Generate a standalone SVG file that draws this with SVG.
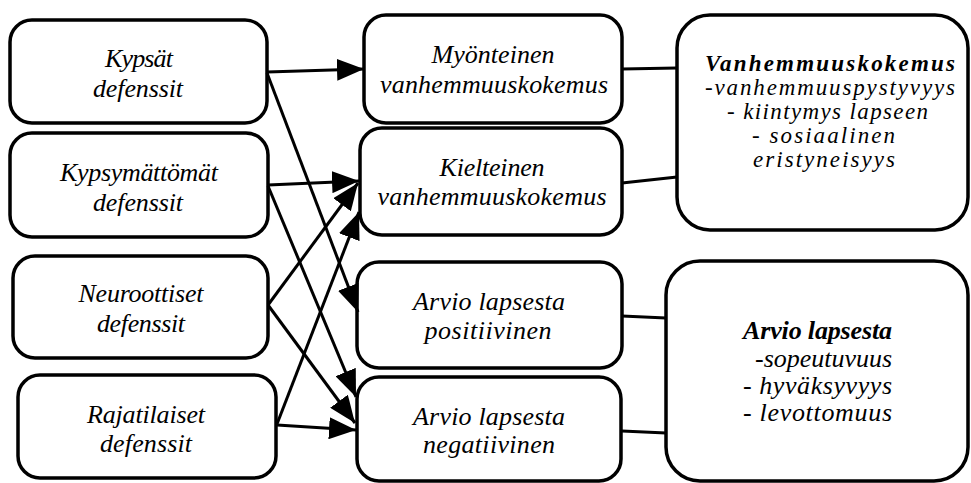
<svg xmlns="http://www.w3.org/2000/svg" width="971" height="483" viewBox="0 0 971 483">
<style>
  .box { fill: #fff; stroke: #000; stroke-width: 3.5; }
  .t { font-family: 'Liberation Serif', 'Times New Roman', serif; font-style: italic; font-size: 26px; fill: #000; text-anchor: middle; }
  .r { font-family: 'Liberation Serif', 'Times New Roman', serif; font-style: italic; font-size: 26px; fill: #000; }
  .s { font-size: 23px; }
  .b { font-weight: bold; }
  .c { fill: none; stroke: #000; stroke-width: 3; }
  .a { marker-end: url(#arr); }
</style>
<defs>
  <marker id="arr" markerUnits="userSpaceOnUse" markerWidth="28" markerHeight="22" refX="27" refY="11" orient="auto">
    <path d="M0,0 L27,11 L0,22 z" fill="#000"/>
  </marker>
</defs>
<rect width="971" height="483" fill="#fff"/>

<g id="kypsat">
  <rect class="box" x="10" y="20" width="257" height="103" rx="22"/>
  <text class="t" x="139" y="67" textLength="68" lengthAdjust="spacing">Kypsät</text>
  <text class="t" x="138" y="97" textLength="90" lengthAdjust="spacing">defenssit</text>
</g>
<g id="kypsymattomat">
  <rect class="box" x="10" y="133" width="258" height="104" rx="22"/>
  <text class="t" x="139" y="181" textLength="158" lengthAdjust="spacing">Kypsymättömät</text>
  <text class="t" x="138" y="211" textLength="90" lengthAdjust="spacing">defenssit</text>
</g>
<g id="neuroottiset">
  <rect class="box" x="13" y="256" width="255" height="102" rx="22"/>
  <text class="t" x="141" y="302" textLength="125" lengthAdjust="spacing">Neuroottiset</text>
  <text class="t" x="141" y="332" textLength="88" lengthAdjust="spacing">defenssit</text>
</g>
<g id="rajatilaiset">
  <rect class="box" x="18" y="375" width="258" height="103" rx="22"/>
  <text class="t" x="146" y="423" textLength="118" lengthAdjust="spacing">Rajatilaiset</text>
  <text class="t" x="146" y="452" textLength="92" lengthAdjust="spacing">defenssit</text>
</g>

<g id="myonteinen">
  <rect class="box" x="364" y="15" width="258" height="108" rx="22"/>
  <text class="t" x="493" y="63" textLength="123" lengthAdjust="spacing">Myönteinen</text>
  <text class="t" x="494" y="93" textLength="228" lengthAdjust="spacing">vanhemmuuskokemus</text>
</g>
<g id="kielteinen">
  <rect class="box" x="360" y="128" width="262" height="107" rx="22"/>
  <text class="t" x="492" y="176" textLength="105" lengthAdjust="spacing">Kielteinen</text>
  <text class="t" x="492" y="205" textLength="229" lengthAdjust="spacing">vanhemmuuskokemus</text>
</g>
<g id="arvio-positiivinen">
  <rect class="box" x="357" y="262" width="265" height="106" rx="22"/>
  <text class="t" x="489" y="310" textLength="152" lengthAdjust="spacing">Arvio lapsesta</text>
  <text class="t" x="488" y="339" textLength="127" lengthAdjust="spacing">positiivinen</text>
</g>
<g id="arvio-negatiivinen">
  <rect class="box" x="357" y="377" width="264" height="104" rx="22"/>
  <text class="t" x="489" y="425" textLength="152" lengthAdjust="spacing">Arvio lapsesta</text>
  <text class="t" x="489" y="453" textLength="132" lengthAdjust="spacing">negatiivinen</text>
</g>

<g id="vanhemmuuskokemus">
  <rect class="box" x="677" y="15" width="291" height="215" rx="33"/>
  <text class="r s b" x="705" y="71" textLength="250" lengthAdjust="spacing">Vanhemmuuskokemus</text>
  <text class="r s" x="705" y="95" textLength="250" lengthAdjust="spacing">-vanhemmuuspystyvyys</text>
  <text class="r s" x="727" y="119" textLength="201" lengthAdjust="spacing">- kiintymys lapseen</text>
  <text class="r s" x="752" y="143" textLength="143" lengthAdjust="spacing">- sosiaalinen</text>
  <text class="r s" x="753" y="167" textLength="142" lengthAdjust="spacing">eristyneisyys</text>
</g>
<g id="arvio-lapsesta">
  <rect class="box" x="666" y="261" width="302" height="220" rx="34"/>
  <text class="r b" x="743" y="339" textLength="149" lengthAdjust="spacing">Arvio lapsesta</text>
  <text class="r" x="755" y="367" textLength="137" lengthAdjust="spacing">-sopeutuvuus</text>
  <text class="r" x="743" y="394" textLength="149" lengthAdjust="spacing">- hyväksyvyys</text>
  <text class="r" x="743" y="421" textLength="149" lengthAdjust="spacing">- levottomuus</text>
</g>

<g id="connectors">
  <line class="c a" x1="267" y1="72" x2="364" y2="69"/>
  <line class="c a" x1="267" y1="73" x2="358" y2="312"/>
  <line class="c a" x1="268" y1="185" x2="359" y2="181"/>
  <line class="c a" x1="268" y1="186" x2="356" y2="397"/>
  <line class="c a" x1="268" y1="305" x2="358" y2="183"/>
  <line class="c a" x1="268" y1="305" x2="355" y2="423"/>
  <line class="c a" x1="277" y1="424" x2="359" y2="212"/>
  <line class="c a" x1="277" y1="425" x2="356" y2="430"/>
  <line class="c" x1="622" y1="69" x2="677" y2="68"/>
  <line class="c" x1="622" y1="183" x2="677" y2="177"/>
  <line class="c" x1="622" y1="316" x2="666" y2="318"/>
  <line class="c" x1="622" y1="431" x2="666" y2="433"/>
</g>
</svg>
